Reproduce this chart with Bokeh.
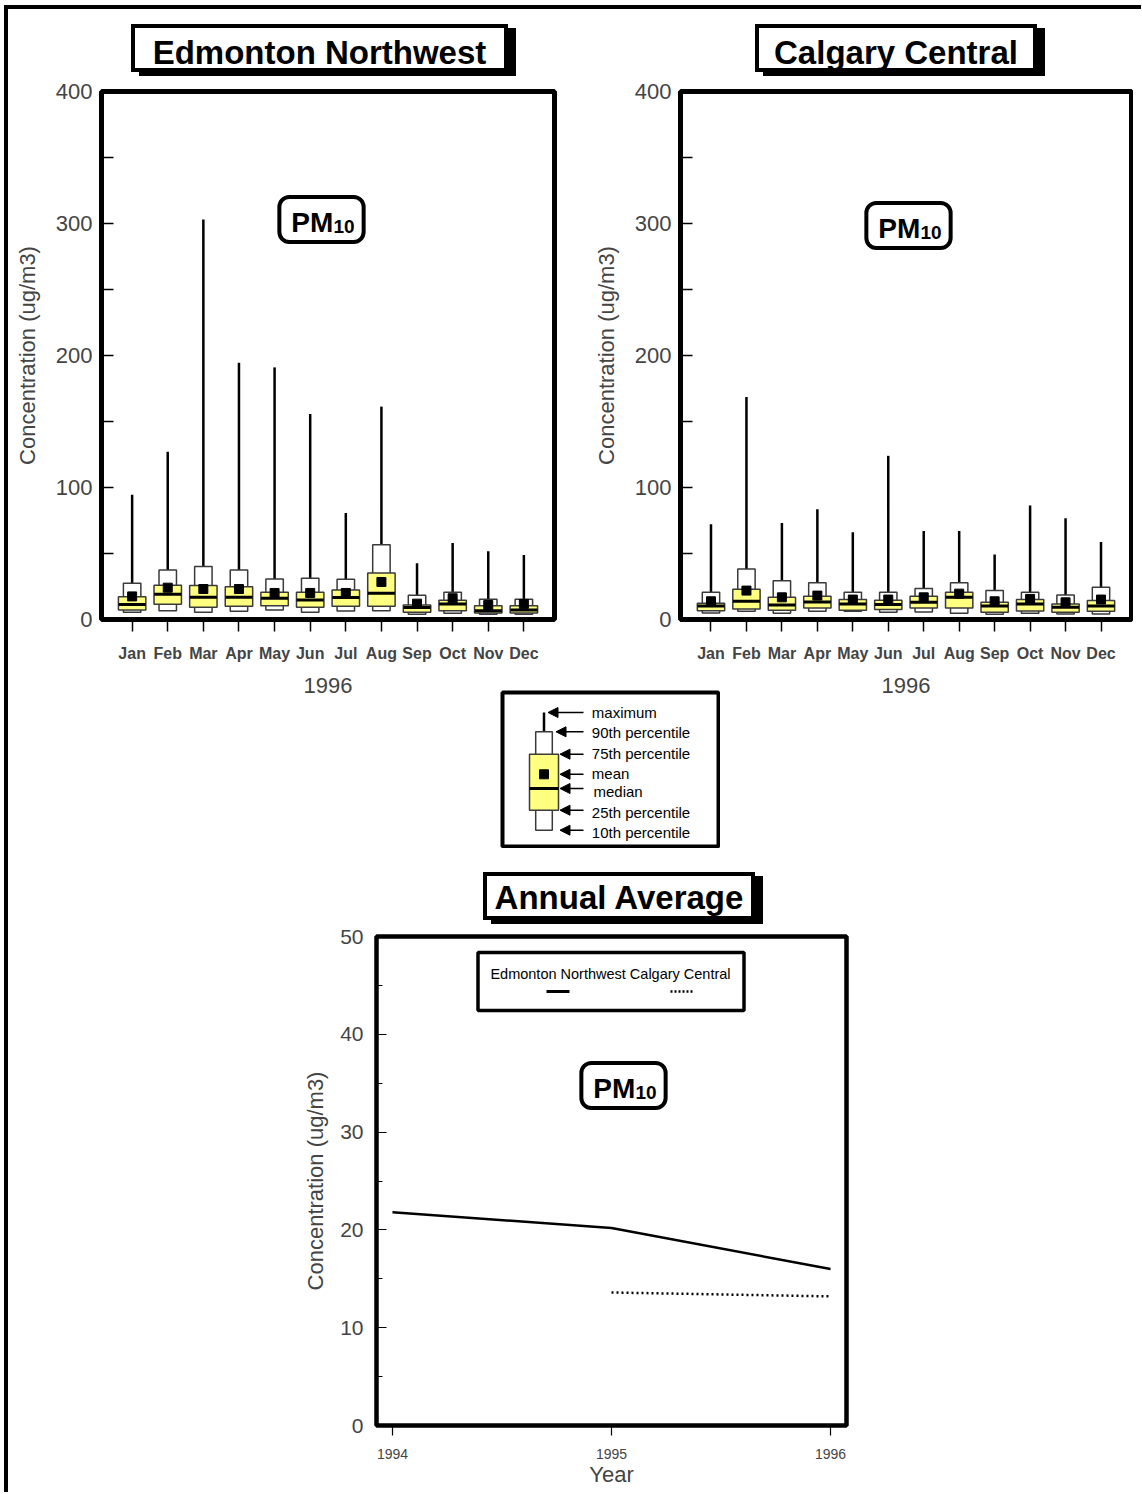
from bokeh.plotting import figure
from bokeh.layouts import row, column
from bokeh.models import (Label, FixedTicker, Range1d, BoxAnnotation, Arrow, NormalHead,
                          Div, Spacer, ColumnDataSource)
from bokeh.embed import file_html
from bokeh.resources import INLINE

FONT = "Liberation Sans"
YELLOW = "#ffff80"
EDGE = "#3a3a3a"

# ---------------- data ----------------
months = ["Jan", "Feb", "Mar", "Apr", "May", "Jun", "Jul", "Aug", "Sep", "Oct", "Nov", "Dec"]
month_ticks = list(range(1, len(months) + 1))
year_label = "1996"

edm_max    = [94.6, 127.0, 303.0, 194.5, 191.0, 155.7, 80.7, 161.3, 42.6, 57.9, 51.7, 48.9]
edm_p90    = [27.4, 37.5, 40.1, 37.5, 30.7, 31.2, 30.5, 56.7, 18.3, 20.6, 15.3, 15.3]
edm_p75    = [17.3, 25.9, 25.7, 24.9, 20.6, 20.6, 22.4, 35.3, 11.0, 14.6, 10.5, 10.5]
edm_mean   = [17.5, 24.1, 23.1, 23.1, 20.1, 20.1, 20.1, 28.4, 12.0, 16.1, 11.0, 11.8]
edm_median = [11.3, 19.1, 16.8, 16.8, 16.1, 14.8, 16.6, 19.9, 9.0, 11.8, 6.7, 7.2]
edm_p25    = [7.2, 11.5, 9.3, 10.0, 10.5, 9.3, 10.0, 10.0, 5.5, 6.7, 5.0, 5.0]
edm_p10    = [5.5, 6.7, 5.5, 6.2, 7.2, 5.5, 6.5, 6.7, 3.9, 4.7, 3.9, 3.9]

cal_max    = [72.1, 168.6, 73.1, 83.5, 66.1, 124.0, 67.1, 67.1, 49.2, 86.3, 76.7, 58.7]
cal_p90    = [20.6, 38.3, 29.4, 27.9, 20.6, 20.6, 23.4, 27.9, 21.9, 20.6, 18.6, 24.4]
cal_p75    = [12.3, 22.9, 16.8, 17.6, 15.1, 14.6, 17.6, 20.6, 13.0, 15.1, 11.8, 14.3]
cal_mean   = [13.8, 21.9, 16.8, 18.1, 15.1, 15.1, 16.8, 19.6, 13.8, 15.6, 13.0, 15.1]
cal_median = [10.3, 13.8, 11.0, 13.3, 11.8, 11.3, 13.0, 16.8, 10.3, 11.8, 9.3, 10.3]
cal_p25    = [6.7, 8.0, 7.0, 8.7, 7.0, 7.5, 8.7, 8.7, 5.5, 6.5, 5.5, 6.2]
cal_p10    = [5.0, 6.2, 4.7, 6.2, 6.2, 5.5, 5.7, 4.7, 3.9, 4.7, 4.2, 4.2]

years = [1994, 1995, 1996]
edm_annual = [21.8, 20.2, 16.0]
cal_years = [1995, 1996]
cal_annual = [13.6, 13.2]

# legend illustration (a sample box: max, p90, p75, mean, median, p25, p10)
legend_names = ["maximum", "90th percentile", "75th percentile", "mean", "median",
                "25th percentile", "10th percentile"]
legend_sample = [134.0, 114.7, 92.3, 72.2, 58.0, 36.3, 16.3]
legend_text_y = [134.0, 113.7, 93.0, 73.0, 54.7, 34.0, 14.0]

# ---------------- helpers ----------------
def add_box(p, fl, fb, cx, cy, w, h, lw, radius=0, fill="white", line="black"):
    p.add_layout(Label(x=cx - fl, y=fb - cy, x_units="screen", y_units="screen",
                       text=" ", text_font_size="1px", text_align="center",
                       text_baseline="middle",
                       padding=(int(round(w / 2)), int(round(h / 2))),
                       background_fill_color=fill, border_line_color=line,
                       border_line_width=lw, border_radius=radius))


def add_text(p, fl, fb, x, y, text, size, style="normal", align="center",
             baseline="middle", font=FONT):
    p.add_layout(Label(x=x - fl, y=fb - y, x_units="screen", y_units="screen",
                       text=text, text_font=font, text_font_size=size,
                       text_font_style=style, text_align=align,
                       text_baseline=baseline, text_color="black"))


def pm_badge(p, fl, fb, cx, cy):
    add_box(p, fl, fb, cx, cy, 84, 44, 4, radius=10)
    add_text(p, fl, fb, cx - 30.3, cy + 3, "PM", "28px", "bold", align="left")
    add_text(p, fl, fb, cx + 12, cy + 6.5, "10", "19px", "bold", align="left")


def title_div(text, w, top, pad_top):
    return Div(text=text, width=w, height=48, margin=(top, 0, 0, 0),
               styles={"box-sizing": "border-box", "border": "4px solid black",
                       "background-color": "white", "box-shadow": "8px 4px 0 0 black",
                       "font-family": FONT, "font-weight": "bold", "font-size": "33px",
                       "line-height": "38px", "padding-top": f"{pad_top}px",
                       "text-align": "center", "color": "black", "overflow": "visible",
                       "white-space": "nowrap"})


TOP_Y = 78          # top of the two station figures
H_TOP = 627
MBT, FRAME_H = 13, 528
MBB = H_TOP - MBT - FRAME_H


def box_figure(stats, fig_left, fig_w, mbl, mbr):
    mx, p90, p75, mean, med, p25, p10 = stats
    p = figure(width=fig_w, height=H_TOP, x_range=Range1d(0.14, 12.86),
               y_range=Range1d(0, 400), output_backend="svg", toolbar_location=None,
               title=None, min_border_left=mbl, min_border_right=mbr,
               min_border_top=MBT, min_border_bottom=MBB,
               background_fill_color="white", border_fill_color="white")
    p.grid.visible = False
    p.outline_line_color = "black"
    p.outline_line_width = 5
    src = ColumnDataSource(dict(x=month_ticks, mx=mx, p90=p90, p75=p75, mean=mean,
                                med=med, p25=p25, p10=p10))
    p.segment(x0="x", y0="p90", x1="x", y1="mx", source=src, line_color="black",
              line_width=2.5)
    p.vbar(x="x", width=0.49, bottom="p10", top="p90", source=src,
           fill_color="white", line_color=EDGE, line_width=1.5)
    p.vbar(x="x", width=0.77, bottom="p25", top="p75", source=src,
           fill_color=YELLOW, line_color=EDGE, line_width=1.5)
    p.scatter(x="x", y="med", source=src, marker="dash", size=27, line_width=3,
              line_color="black")
    p.scatter(x="x", y="mean", source=src, marker="square", size=9,
              fill_color="black", line_color="black")

    ya = p.yaxis[0]
    ya.ticker = FixedTicker(ticks=[0, 100, 200, 300, 400], minor_ticks=[50, 150, 250, 350])
    ya.axis_line_color = None
    ya.major_tick_in = 12
    ya.major_tick_out = 0
    ya.minor_tick_in = 12
    ya.minor_tick_out = 0
    ya.major_tick_line_width = 1.5
    ya.minor_tick_line_width = 1.5
    ya.major_label_text_font = FONT
    ya.major_label_text_font_size = "22px"
    ya.major_label_standoff = 9
    ya.axis_label = "Concentration (ug/m3)"
    ya.axis_label_text_font = FONT
    ya.axis_label_text_font_size = "22px"
    ya.axis_label_text_font_style = "normal"
    ya.axis_label_standoff = 13

    xa = p.xaxis[0]
    xa.ticker = FixedTicker(ticks=month_ticks)
    xa.major_label_overrides = {t: m for t, m in zip(month_ticks, months)}
    xa.axis_line_color = None
    xa.major_tick_in = 0
    xa.major_tick_out = 12
    xa.major_tick_line_width = 1.5
    xa.minor_tick_line_color = None
    xa.major_label_text_font = FONT
    xa.major_label_text_font_style = "bold"
    xa.major_label_text_font_size = "16px"
    xa.major_label_standoff = 13
    xa.axis_label = year_label
    xa.axis_label_text_font = FONT
    xa.axis_label_text_font_size = "22px"
    xa.axis_label_text_font_style = "normal"
    xa.axis_label_standoff = 13
    return p, fig_left + mbl, TOP_Y + MBT + FRAME_H


# ---------------- Edmonton ----------------
pE, flE, fbE = box_figure((edm_max, edm_p90, edm_p75, edm_mean, edm_median, edm_p25, edm_p10),
                          8, 582, 93, 36)
pm_badge(pE, flE, fbE, 321, 219)

# ---------------- Calgary ----------------
pC, flC, fbC = box_figure((cal_max, cal_p90, cal_p75, cal_mean, cal_median, cal_p25, cal_p10),
                          590, 543, 89, 2)
pm_badge(pC, flC, fbC, 907, 225)

# ---------------- legend illustration ----------------
pL = figure(width=220, height=158, x_range=Range1d(0, 216), y_range=Range1d(0, 154),
            output_backend="svg", toolbar_location=None, title=None,
            x_axis_type=None, y_axis_type=None,
            min_border_left=2, min_border_right=2, min_border_top=2, min_border_bottom=2,
            background_fill_color="white", border_fill_color="white")
pL.grid.visible = False
pL.outline_line_color = "black"
pL.outline_line_width = 4
lmx, l90, l75, lmean, lmed, l25, l10 = legend_sample
lx = 41.5
pL.segment(x0=[lx], y0=[l90], x1=[lx], y1=[lmx], line_color="black", line_width=2.5)
pL.vbar(x=[lx], width=16.6, bottom=[l10], top=[l90], fill_color="white",
        line_color=EDGE, line_width=1.5)
pL.vbar(x=[lx], width=29, bottom=[l25], top=[l75], fill_color=YELLOW,
        line_color=EDGE, line_width=1.5)
pL.scatter(x=[lx], y=[lmed], marker="dash", size=29, line_width=3, line_color="black")
pL.scatter(x=[lx], y=[lmean], marker="square", size=9, fill_color="black",
           line_color="black")
tips = [45.5, 53.5, 57.5, 57.5, 57.5, 57.5, 57.5]
for name, yv, ty, tip in zip(legend_names, legend_sample, legend_text_y, tips):
    pL.add_layout(Arrow(end=NormalHead(size=10, fill_color="black", line_color="black"),
                        x_start=81, y_start=yv, x_end=tip, y_end=yv,
                        line_color="black", line_width=1.5))
    pL.add_layout(Label(x=89.3 if name != "median" else 91, y=ty, text=name,
                        text_font=FONT, text_font_size="15px", text_baseline="middle",
                        text_align="left", text_color="black"))

# ---------------- annual average ----------------
A_LEFT, A_TOP = 290, 924
A_W, A_H = 570, 568
A_MBL, A_MBT, A_FW, A_FH = 86, 12, 470, 489
pA = figure(width=A_W, height=A_H, x_range=Range1d(1993.927, 1996.073),
            y_range=Range1d(0, 50), output_backend="svg", toolbar_location=None,
            title=None, min_border_left=A_MBL, min_border_right=A_W - A_MBL - A_FW,
            min_border_top=A_MBT, min_border_bottom=A_H - A_MBT - A_FH,
            background_fill_color="white", border_fill_color="white")
pA.grid.visible = False
pA.outline_line_color = "black"
pA.outline_line_width = 4.5
pA.line(years, edm_annual, line_color="black", line_width=2.5)
pA.line(cal_years, cal_annual, line_color="black", line_width=2.5, line_dash="2 3")

ya = pA.yaxis[0]
ya.ticker = FixedTicker(ticks=[0, 10, 20, 30, 40, 50], minor_ticks=[5, 15, 25, 35, 45])
ya.axis_line_color = None
ya.major_tick_in = 10
ya.major_tick_out = 0
ya.minor_tick_in = 6
ya.minor_tick_out = 0
ya.major_tick_line_width = 1.2
ya.minor_tick_line_width = 1.2
ya.major_label_text_font = FONT
ya.major_label_text_font_size = "21px"
ya.major_label_standoff = 13
ya.axis_label = "Concentration (ug/m3)"
ya.axis_label_text_font = FONT
ya.axis_label_text_font_size = "22px"
ya.axis_label_text_font_style = "normal"
ya.axis_label_standoff = 9

xa = pA.xaxis[0]
xa.ticker = FixedTicker(ticks=years)
xa.major_label_overrides = {y: str(y) for y in years}
xa.axis_line_color = None
xa.major_tick_in = 0
xa.major_tick_out = 10
xa.major_tick_line_width = 1.2
xa.minor_tick_line_color = None
xa.major_label_text_font = FONT
xa.major_label_text_font_size = "14px"
xa.major_label_standoff = 13
xa.axis_label = "Year"
xa.axis_label_text_font = FONT
xa.axis_label_text_font_size = "22px"
xa.axis_label_text_font_style = "normal"
xa.axis_label_standoff = 0

flA = A_LEFT + A_MBL
fbA = A_TOP + A_MBT + A_FH
pm_badge(pA, flA, fbA, 623, 1085)

# annual legend
pA.add_layout(BoxAnnotation(left=477.5 - flA, right=743.5 - flA, top=fbA - 952,
                            bottom=fbA - 1010, left_units="screen", right_units="screen",
                            top_units="screen", bottom_units="screen",
                            fill_color="white", fill_alpha=1.0, line_color="black",
                            line_width=3.5, line_alpha=1.0))
add_text(pA, flA, fbA, 610, 973, "Edmonton Northwest Calgary Central", "14.5px")
pA.add_layout(Arrow(start=None, end=None, x_start=546 - flA, x_end=569 - flA,
                    y_start=fbA - 991, y_end=fbA - 991, start_units="screen",
                    end_units="screen", line_color="black", line_width=3))
pA.add_layout(Arrow(start=None, end=None, x_start=670 - flA, x_end=692 - flA,
                    y_start=fbA - 991, y_end=fbA - 991, start_units="screen",
                    end_units="screen", line_color="black", line_width=2.5,
                    line_dash="2 2"))

# ---------------- layout ----------------
BODY_X, BODY_Y = 8, 9
head_row = row(Spacer(width=131 - BODY_X, height=TOP_Y - BODY_Y),
               title_div("Edmonton Northwest", 377, 24 - BODY_Y, 6),
               Spacer(width=755 - 508, height=TOP_Y - BODY_Y),
               title_div("Calgary Central", 282, 24 - BODY_Y, 6))
top_row = row(pE, pC)
leg_row = row(Spacer(width=500 - BODY_X, height=158), pL,
              margin=(690 - (TOP_Y + H_TOP), 0, 0, 0))
ann_head = row(Spacer(width=483 - BODY_X, height=A_TOP - 848),
               title_div("Annual Average", 272, 872 - 848, 3))
ann_row = row(Spacer(width=A_LEFT - BODY_X, height=A_H), pA)
body = column(head_row, top_row, leg_row, ann_head, ann_row)

top_bar = Div(text="", width=1137, height=4, margin=(5, 0, 0, 4),
              styles={"background-color": "black"})
left_bar = Div(text="", width=4, height=1483, margin=(0, 0, 0, 4),
               styles={"background-color": "black"})
root = column(top_bar, row(left_bar, body))

open("out.html", "w").write(file_html(root, INLINE))
